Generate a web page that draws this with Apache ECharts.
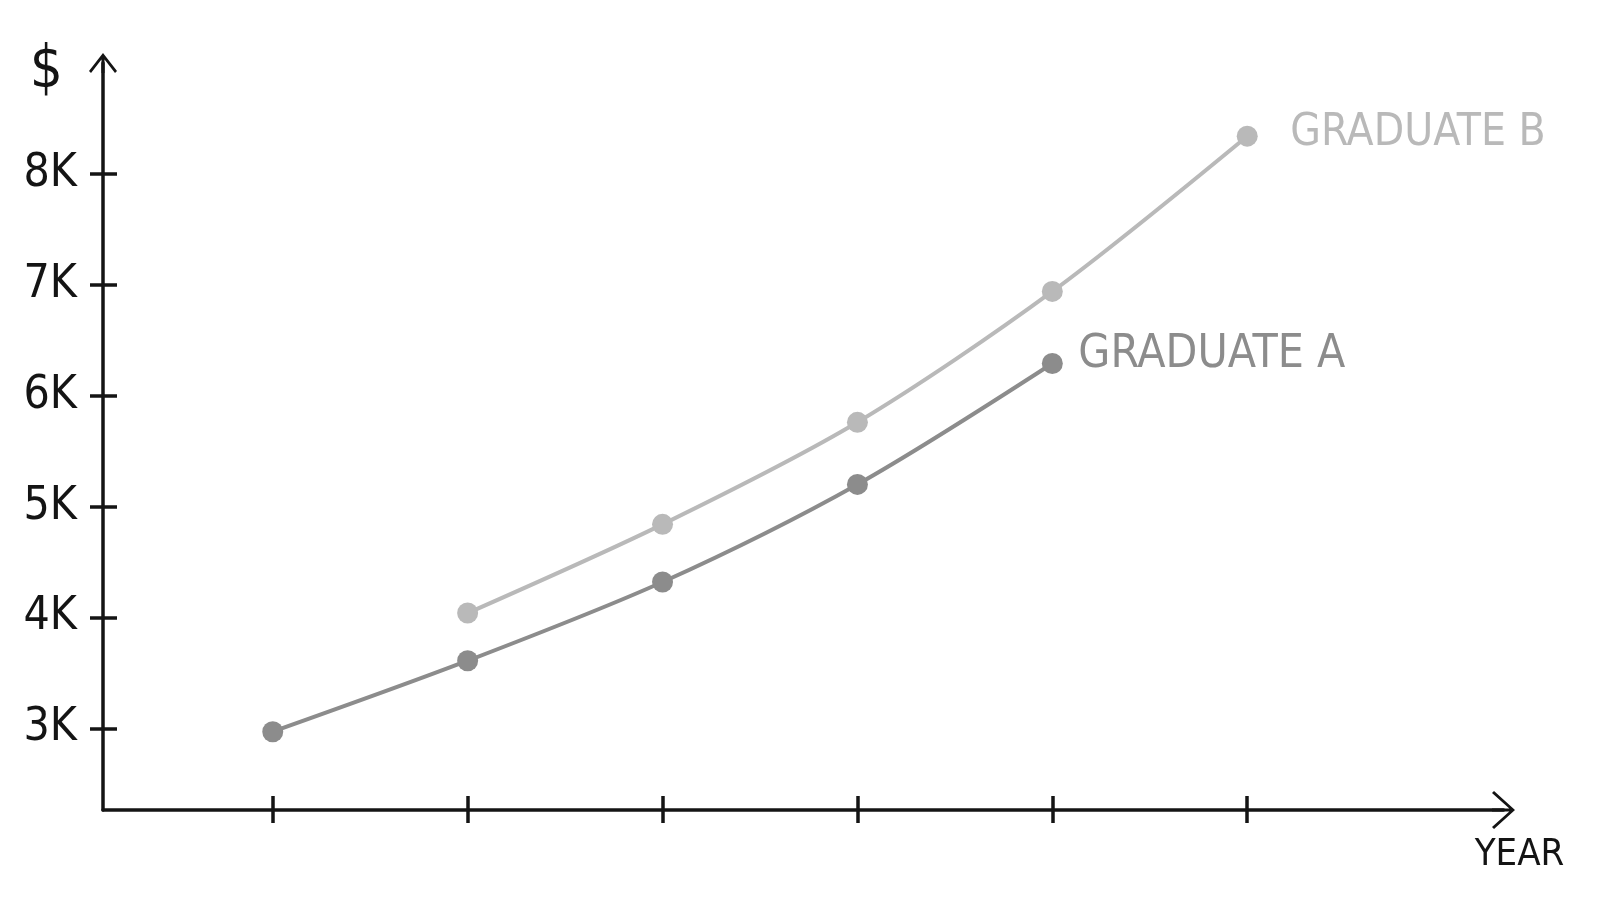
<!DOCTYPE html>
<html>
<head>
<meta charset="utf-8">
<script src="https://cdn.jsdelivr.net/npm/echarts@6/dist/echarts.min.js"></script>
<style>html,body{margin:0;padding:0;background:#fff;}#main{width:1600px;height:900px;}</style>
</head>
<body>
<div id="main"></div>
<script>
// ---- data ----
const yearTicks = [1, 2, 3, 4, 5, 6];
const salaryTicks = [3000, 4000, 5000, 6000, 7000, 8000];
const gradAYears = [1, 2, 3, 4, 5];
const gradASalary = [2970, 3610, 4320, 5200, 6290];
const gradBYears = [2, 3, 4, 5, 6];
const gradBSalary = [4040, 4840, 5760, 6940, 8340];
const seriesNames = ['GRADUATE A', 'GRADUATE B'];

const FONT = '"Liberation Sans Narrow", "DejaVu Sans Condensed", "Liberation Sans", sans-serif';
const INK = '#141414';
const colorA = '#8c8c8c';
const colorB = '#b9b9b9';

const arrowY = 'path://M0,18 L14,0 L28,18 L26,20 L14,4.5 L2,20 Z M12.5,2 L15.5,2 L15.5,20 L12.5,20 Z';
const arrowX = 'path://M0,21 L19,0 L38,21 L36,23 L19,4 L2,23 Z M17.5,2 L20.5,2 L20.5,23 L17.5,23 Z';

const xMin = 0.129, xMax = 7.315, yMin = 2264, yMax = 9000;

function pairs(xs, ys) { return xs.map((x, i) => [x, ys[i]]); }

const chart = echarts.init(document.getElementById('main'));
chart.setOption({
  animation: false,
  backgroundColor: '#ffffff',
  grid: { left: 103, right: 96.5, top: 63, bottom: 90, containLabel: false },
  xAxis: [
    {
      type: 'value', min: xMin, max: xMax, position: 'bottom',
      name: 'YEAR', nameLocation: 'end', nameGap: 16,
      nameTextStyle: { color: INK, fontFamily: FONT, fontSize: 38, align: 'center', verticalAlign: 'top', padding: [26, 0, 0, 0] },
      axisLine: { show: true, onZero: false, symbol: ['none', arrowX], symbolSize: [38, 23], lineStyle: { color: INK, width: 3.5 } },
      axisTick: { show: true, inside: false, length: 13, customValues: yearTicks, lineStyle: { color: INK, width: 3.5 } },
      axisLabel: { show: false },
      splitLine: { show: false }
    },
    {
      type: 'value', min: xMin, max: xMax, position: 'bottom',
      axisLine: { show: false, onZero: false },
      axisTick: { show: true, inside: true, length: 14, customValues: yearTicks, lineStyle: { color: INK, width: 3.5 } },
      axisLabel: { show: false },
      splitLine: { show: false }
    }
  ],
  yAxis: [
    {
      type: 'value', min: yMin, max: yMax, position: 'left',
      name: '$', nameLocation: 'end', nameGap: -9,
      nameTextStyle: { color: INK, fontFamily: FONT, fontSize: 58, align: 'right', verticalAlign: 'middle', padding: [0, 40, 0, 0] },
      axisLine: { show: true, onZero: false, symbol: ['none', arrowY], symbolSize: [28, 20], lineStyle: { color: INK, width: 3.5 } },
      axisTick: { show: true, inside: false, length: 13, customValues: salaryTicks, lineStyle: { color: INK, width: 3.5 } },
      axisLabel: {
        show: true, customValues: salaryTicks, margin: 26,
        color: INK, fontFamily: FONT, fontSize: 46,
        formatter: v => (v / 1000) + 'K'
      },
      splitLine: { show: false }
    },
    {
      type: 'value', min: yMin, max: yMax, position: 'left',
      axisLine: { show: false, onZero: false },
      axisTick: { show: true, inside: true, length: 14, customValues: salaryTicks, lineStyle: { color: INK, width: 3.5 } },
      axisLabel: { show: false },
      splitLine: { show: false }
    }
  ],
  series: [
    {
      name: seriesNames[0], type: 'line', xAxisIndex: 0, yAxisIndex: 0,
      data: pairs(gradAYears, gradASalary),
      smooth: 0.3, symbol: 'circle', symbolSize: 21,
      lineStyle: { color: colorA, width: 4 },
      itemStyle: { color: colorA },
      endLabel: { show: true, formatter: '{a}', color: colorA, fontFamily: FONT, fontSize: 46, distance: 26, offset: [0, -8] }
    },
    {
      name: seriesNames[1], type: 'line', xAxisIndex: 0, yAxisIndex: 0,
      data: pairs(gradBYears, gradBSalary),
      smooth: 0.3, symbol: 'circle', symbolSize: 21,
      lineStyle: { color: colorB, width: 4 },
      itemStyle: { color: colorB },
      endLabel: { show: true, formatter: '{a}', color: colorB, fontFamily: FONT, fontSize: 44, distance: 43, offset: [0, -3] }
    }
  ]
});
</script>
</body>
</html>
